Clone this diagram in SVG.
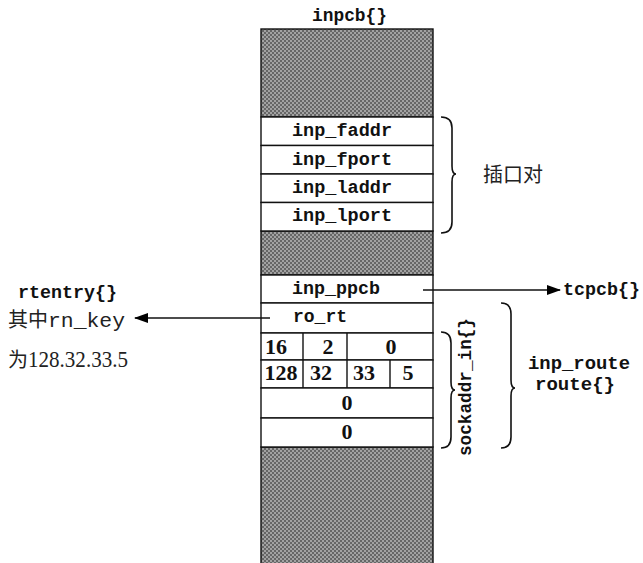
<svg xmlns="http://www.w3.org/2000/svg" width="643" height="563" viewBox="0 0 643 563">
<defs>
<pattern id="ht" width="4" height="4" patternUnits="userSpaceOnUse">
<rect width="4" height="4" fill="#a2a2a2"/>
<rect width="2" height="2" fill="#666"/>
<rect x="2" y="2" width="2" height="2" fill="#666"/>
</pattern>
<marker id="ah" viewBox="0 0 14 10" refX="13" refY="5" markerWidth="14" markerHeight="10" markerUnits="userSpaceOnUse" orient="auto">
<path d="M0,0 L14,5 L0,10 Z" fill="#000"/>
</marker>
</defs>
<style>
.mono{font-family:"Liberation Mono","DejaVu Sans Mono",monospace;font-weight:bold;font-size:18px;fill:#111}
.monor{font-family:"Liberation Mono","DejaVu Sans Mono",monospace;font-size:20px;fill:#222}
.num{font-family:"Liberation Serif","DejaVu Serif",serif;font-weight:bold;font-size:22px;fill:#111}
.ser{font-family:"Liberation Serif","DejaVu Serif",serif;font-size:23px;fill:#222}
.cjk{font-family:"Noto Sans CJK SC","Noto Sans",sans-serif;font-size:20px;fill:#222}
.row{fill:#fff;stroke:#111;stroke-width:1.4}
.gray{fill:url(#ht);stroke:#111;stroke-width:1.4}
.line{stroke:#111;stroke-width:1.4;fill:none}
.brace{stroke:#111;stroke-width:1.6;fill:none}
</style>
<g id="title"><text class="mono" x="312" y="16" dominant-baseline="central" textLength="75" lengthAdjust="spacingAndGlyphs">inpcb{}</text></g>
<g id="inpcb">
<rect class="gray" x="261" y="29" width="172" height="88"/>
<rect class="gray" x="261" y="231" width="172" height="44"/>
<rect class="gray" x="261" y="447" width="172" height="130"/>
</g>
<g id="inp_faddr"><rect class="row" x="261" y="117" width="172" height="28.5"/><text class="mono" x="292" y="131" dominant-baseline="central" textLength="100" lengthAdjust="spacingAndGlyphs">inp_faddr</text></g>
<g id="inp_fport"><rect class="row" x="261" y="145.5" width="172" height="28.5"/><text class="mono" x="292" y="160" dominant-baseline="central" textLength="100" lengthAdjust="spacingAndGlyphs">inp_fport</text></g>
<g id="inp_laddr"><rect class="row" x="261" y="174" width="172" height="28.5"/><text class="mono" x="292" y="188" dominant-baseline="central" textLength="100" lengthAdjust="spacingAndGlyphs">inp_laddr</text></g>
<g id="inp_lport"><rect class="row" x="261" y="202.5" width="172" height="28.5"/><text class="mono" x="292" y="216" dominant-baseline="central" textLength="100" lengthAdjust="spacingAndGlyphs">inp_lport</text></g>
<g id="inp_ppcb"><rect class="row" x="261" y="275" width="172" height="28"/><text class="mono" x="292" y="289" dominant-baseline="central" textLength="88" lengthAdjust="spacingAndGlyphs">inp_ppcb</text></g>
<g id="ro_rt"><rect class="row" x="261" y="303" width="172" height="30"/><text class="mono" x="293" y="317" dominant-baseline="central" textLength="54" lengthAdjust="spacingAndGlyphs">ro_rt</text></g>
<g id="sin_row1"><rect class="row" x="261" y="333" width="172" height="27"/>
<line class="line" x1="303" y1="333" x2="303" y2="360"/><line class="line" x1="347" y1="333" x2="347" y2="360"/>
<text class="num" x="276" y="354" text-anchor="middle">16</text>
<text class="num" x="328" y="354" text-anchor="middle">2</text>
<text class="num" x="391" y="354" text-anchor="middle">0</text></g>
<g id="sin_row2"><rect class="row" x="261" y="360" width="172" height="28"/>
<line class="line" x1="303" y1="360" x2="303" y2="388"/><line class="line" x1="347" y1="360" x2="347" y2="388"/><line class="line" x1="390" y1="360" x2="390" y2="388"/>
<text class="num" x="281" y="380" text-anchor="middle">128</text>
<text class="num" x="321" y="380" text-anchor="middle">32</text>
<text class="num" x="364" y="380" text-anchor="middle">33</text>
<text class="num" x="408" y="380" text-anchor="middle">5</text></g>
<g id="sin_row3"><rect class="row" x="261" y="388" width="172" height="30"/><text class="num" x="347" y="410" text-anchor="middle">0</text></g>
<g id="sin_row4"><rect class="row" x="261" y="418" width="172" height="29"/><text class="num" x="347" y="439" text-anchor="middle">0</text></g>
<g id="braces">
<path class="brace" d="M441,117 Q452,117 452,128 L452,166 Q452,174 456,174 Q452,174 452,182 L452,222 Q452,233 441,233"/>
<path class="brace" d="M441,332 Q451,332 451,343 L451,382 Q451,390 455,390 Q451,390 451,398 L451,437 Q451,448 441,448"/>
<path class="brace" d="M501,303 Q511,303 511,314 L511,380 Q511,388 515,388 Q511,388 511,396 L511,437 Q511,448 501,448"/>
</g>
<g id="connectors">
<line class="line" x1="423" y1="290" x2="560" y2="290" marker-end="url(#ah)"/>
<line class="line" x1="270" y1="318" x2="135" y2="318" marker-end="url(#ah)"/>
</g>
<g id="socket_pair"><text class="cjk" x="483" y="173" dominant-baseline="central">插口对</text></g>
<g id="tcpcb"><text class="mono" x="563" y="290" dominant-baseline="central" textLength="77" lengthAdjust="spacingAndGlyphs">tcpcb{}</text></g>
<g id="rtentry">
<text class="mono" x="18" y="293" dominant-baseline="central" textLength="99" lengthAdjust="spacingAndGlyphs">rtentry{}</text>
<text x="8" y="327"><tspan class="cjk">其中</tspan><tspan class="monor" textLength="77" lengthAdjust="spacingAndGlyphs">rn_key</tspan></text>
<text x="8" y="367"><tspan class="cjk">为</tspan><tspan class="ser" textLength="100" lengthAdjust="spacingAndGlyphs">128.32.33.5</tspan></text>
</g>
<g id="sockaddr_in"><text class="mono" transform="translate(466,387) rotate(-90)" text-anchor="middle" dominant-baseline="central" textLength="138" lengthAdjust="spacingAndGlyphs">sockaddr_in{}</text></g>
<g id="inp_route">
<text class="mono" x="528" y="364" dominant-baseline="central" textLength="102" lengthAdjust="spacingAndGlyphs">inp_route</text>
<text class="mono" x="535" y="385" dominant-baseline="central" textLength="80" lengthAdjust="spacingAndGlyphs">route{}</text>
</g>
</svg>
